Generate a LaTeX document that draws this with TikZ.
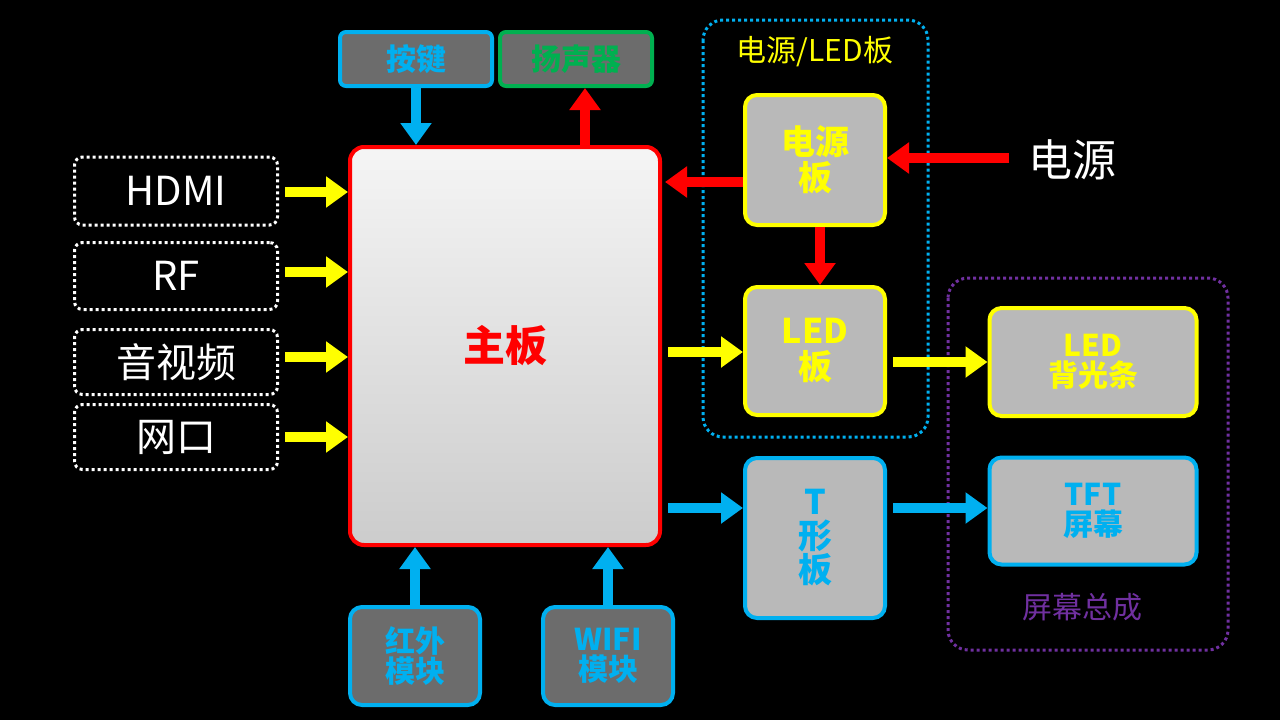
\documentclass[tikz,border=0pt]{standalone}
\usepackage{fontspec}
\setmainfont{Noto Sans CJK SC}
\usetikzlibrary{arrows.meta}
\definecolor{cb}{HTML}{00B0F0}
\definecolor{cy}{HTML}{FFFF00}
\definecolor{cr}{HTML}{FF0000}
\definecolor{cg}{HTML}{00B050}
\definecolor{cp}{HTML}{7030A0}
\begin{document}
\begin{tikzpicture}[x=1pt,y=-1pt,
 inbox/.style={draw=white,dashed,line width=3,rounded corners=8,text=white,font=\fontsize{40}{44}\selectfont},
 bx/.style={line width=4,rounded corners=12,fill=#1,font=\bfseries\fontsize{34}{40}\selectfont,align=center},
 grp/.style={draw=#1,dashed,line width=3,rounded corners=20},
 ar/.style={draw=#1,line width=10,-{Triangle[width=30pt,length=22pt]}}]
\fill[black] (0,0) rectangle (1280,720);
\useasboundingbox (0,0) rectangle (1280,720);
\def\B(#1,#2,#3,#4){(#1,#2) rectangle (#3,#4)}
% groups
\draw[grp=cb] (703,20) rectangle (928,437);
\node[text=cy,font=\fontsize{30}{34}\selectfont] (gl) at (815,52) {电源/LED板};
\draw[grp=cp] (948,278) rectangle (1228,650);
\node[text=cp,font=\fontsize{30}{34}\selectfont] (gs) at (1082,607) {屏幕总成};
% inputs
\node[inbox,minimum width=203,minimum height=68] (hdmi) at (176,191) {HDMI};
\node[inbox,minimum width=203,minimum height=67] (rf) at (176,276) {RF};
\node[inbox,minimum width=203,minimum height=65] (av) at (176,362) {音视频};
\node[inbox,minimum width=203,minimum height=65] (net) at (176,437) {网口};
% main
\node[draw=cr,line width=4,rounded corners=14,top color=white!92!gray,bottom color=gray!40,minimum width=310,minimum height=398,text=cr,font=\bfseries\fontsize{42}{46}\selectfont] (main) at (505,346) {主板};
% top
\node[bx=gray!85!black,draw=cb,text=cb,minimum width=152,minimum height=54,rounded corners=6,font=\bfseries\fontsize{30}{34}\selectfont] (key) at (416,59) {按键};
\node[bx=gray!85!black,draw=cg,text=cg,minimum width=152,minimum height=54,rounded corners=6,font=\bfseries\fontsize{30}{34}\selectfont] (spk) at (576,59) {扬声器};
% power / led
\node[bx=gray!55,draw=cy,text=cy,minimum width=140,minimum height=130] (pwr) at (815,160) {电源\\[-4pt]板};
\node[bx=gray!55,draw=cy,text=cy,minimum width=140,minimum height=128] (led) at (815,351) {LED\\[-4pt]板};
\node[text=white,font=\fontsize{44}{48}\selectfont] (src) at (1072,160) {电源};
\node[bx=gray!55,draw=cy,text=cy,minimum width=207,minimum height=108,font=\bfseries\fontsize{30}{34}\selectfont] (bl) at (1093,362) {LED\\[-4pt]背光条};
\node[bx=gray!55,draw=cb,text=cb,minimum width=207,minimum height=107,font=\bfseries\fontsize{30}{34}\selectfont] (tft) at (1093,511) {TFT\\[-4pt]屏幕};
\node[bx=gray!55,draw=cb,text=cb,minimum width=140,minimum height=160] (t) at (815,538) {T\\[-6pt]形\\[-6pt]板};
% bottom
\node[bx=gray!85!black,draw=cb,text=cb,minimum width=130,minimum height=98,font=\bfseries\fontsize{30}{34}\selectfont] (ir) at (415,656) {红外\\[-4pt]模块};
\node[bx=gray!85!black,draw=cb,text=cb,minimum width=130,minimum height=98,font=\bfseries\fontsize{30}{34}\selectfont] (wifi) at (608,656) {WIFI\\[-4pt]模块};
% arrows
\foreach \n/\y in {hdmi/192,rf/272,av/357,net/437}{
 \draw[ar=cy] (\n.east|-0,\y) ++(6,0) -- (main.west|-0,\y);}
\draw[ar=cb] (key.south) -- (main.north-|key.south);
\draw[ar=cr] (main.north-|585,0) -- (spk.south-|585,0);
\draw[ar=cr] (pwr.west|-0,182) -- ++(-78,0) coordinate (pm);
\draw[ar=cr] (src.west|-0,158) ++(-15,0) -- (pwr.east|-0,158);
\draw[ar=cr] (pwr.south-|820,0) -- (led.north-|820,0);
\draw[ar=cy] (main.east|-0,352) ++(6,0) -- (led.west|-0,352);
\draw[ar=cy] (led.east|-0,362) ++(6,0) -- (bl.west|-0,362);
\draw[ar=cb] (main.east|-0,508) ++(6,0) -- (t.west|-0,508);
\draw[ar=cb] (t.east|-0,508) ++(6,0) -- (tft.west|-0,508);
\draw[ar=cb] (ir.north) -- (main.south-|ir.north);
\draw[ar=cb] (wifi.north) -- (main.south-|wifi.north);
\end{tikzpicture}
\end{document}
